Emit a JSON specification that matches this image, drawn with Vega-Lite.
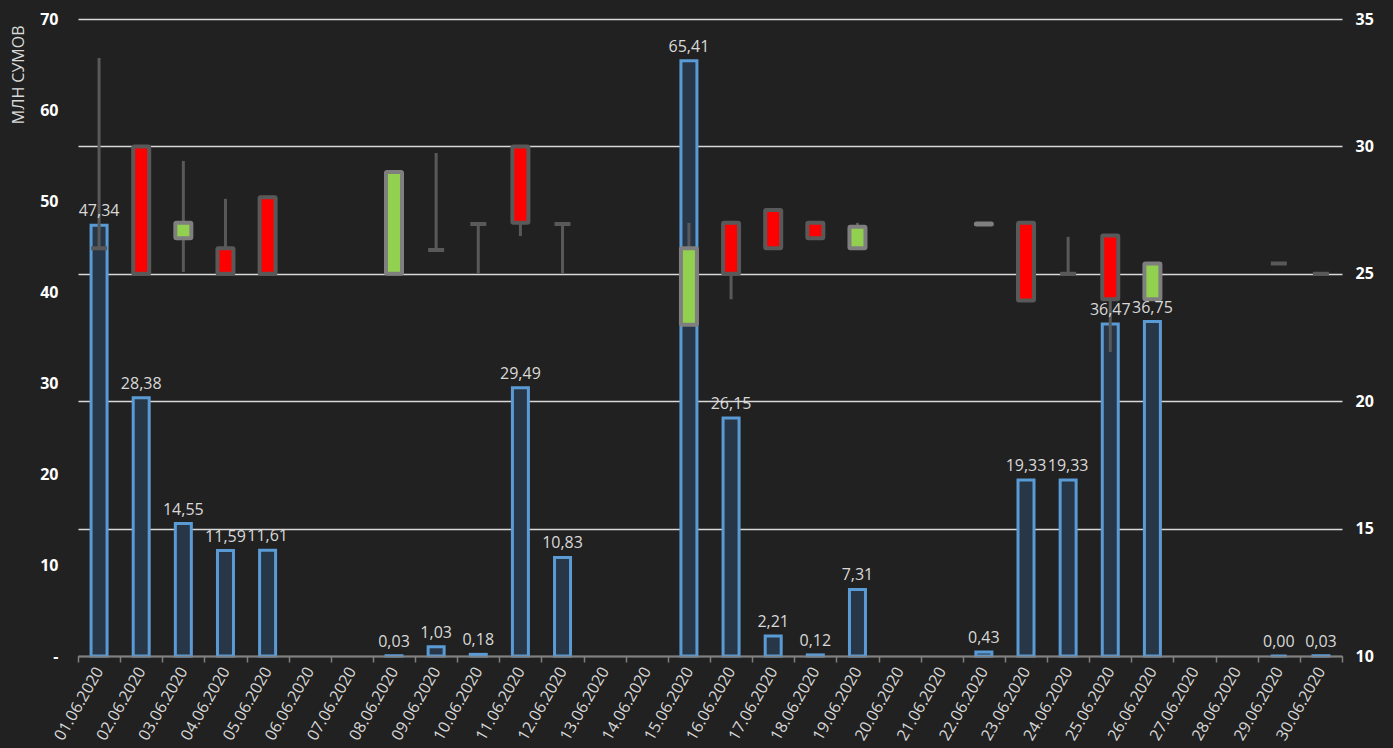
{
  "$schema": "https://vega.github.io/schema/vega-lite/v6.json",
  "width": 1264,
  "height": 637,
  "autosize": {"type": "none"},
  "padding": {"left": 78, "top": 19, "right": 51, "bottom": 92},
  "background": "#212121",
  "config": {
    "view": {"stroke": null},
    "font": "Open Sans",
    "locale": {"number": {"decimal": ",", "thousands": " ", "grouping": [3], "currency": ["", ""]}}
  },
  "data": {
    "values": [
      {"date": "01.06.2020", "value": 47.34, "open": 26, "close": 26, "high": 33.47, "low": 26},
      {"date": "02.06.2020", "value": 28.38, "open": 30, "close": 25, "high": 30, "low": 25},
      {"date": "03.06.2020", "value": 14.55, "open": 26.4, "close": 27.0, "high": 29.43, "low": 25.07},
      {"date": "04.06.2020", "value": 11.59, "open": 26, "close": 25, "high": 27.94, "low": 25},
      {"date": "05.06.2020", "value": 11.61, "open": 28, "close": 25, "high": 28, "low": 25},
      {"date": "06.06.2020", "value": null, "open": null, "close": null, "high": null, "low": null},
      {"date": "07.06.2020", "value": null, "open": null, "close": null, "high": null, "low": null},
      {"date": "08.06.2020", "value": 0.03, "open": 25, "close": 29, "high": 29, "low": 25},
      {"date": "09.06.2020", "value": 1.03, "open": 25.93, "close": 25.93, "high": 29.74, "low": 25.93},
      {"date": "10.06.2020", "value": 0.18, "open": 26.95, "close": 26.95, "high": 26.95, "low": 25},
      {"date": "11.06.2020", "value": 29.49, "open": 30, "close": 27, "high": 30, "low": 26.48},
      {"date": "12.06.2020", "value": 10.83, "open": 26.95, "close": 26.95, "high": 26.95, "low": 25},
      {"date": "13.06.2020", "value": null, "open": null, "close": null, "high": null, "low": null},
      {"date": "14.06.2020", "value": null, "open": null, "close": null, "high": null, "low": null},
      {"date": "15.06.2020", "value": 65.41, "open": 23, "close": 26, "high": 27, "low": 23},
      {"date": "16.06.2020", "value": 26.15, "open": 27, "close": 25, "high": 27, "low": 24},
      {"date": "17.06.2020", "value": 2.21, "open": 27.5, "close": 26, "high": 27.5, "low": 26},
      {"date": "18.06.2020", "value": 0.12, "open": 27, "close": 26.4, "high": 27, "low": 26.4},
      {"date": "19.06.2020", "value": 7.31, "open": 26, "close": 26.85, "high": 27, "low": 26},
      {"date": "20.06.2020", "value": null, "open": null, "close": null, "high": null, "low": null},
      {"date": "21.06.2020", "value": null, "open": null, "close": null, "high": null, "low": null},
      {"date": "22.06.2020", "value": 0.43, "open": 26.93, "close": 26.97, "high": 26.97, "low": 26.93},
      {"date": "23.06.2020", "value": 19.33, "open": 27, "close": 23.95, "high": 27, "low": 23.95},
      {"date": "24.06.2020", "value": 19.33, "open": 25, "close": 25, "high": 26.45, "low": 25},
      {"date": "25.06.2020", "value": 36.47, "open": 26.5, "close": 24, "high": 26.5, "low": 21.93},
      {"date": "26.06.2020", "value": 36.75, "open": 24, "close": 25.4, "high": 25.4, "low": 24},
      {"date": "27.06.2020", "value": null, "open": null, "close": null, "high": null, "low": null},
      {"date": "28.06.2020", "value": null, "open": null, "close": null, "high": null, "low": null},
      {"date": "29.06.2020", "value": 0.0, "open": 25.4, "close": 25.4, "high": 25.4, "low": 25.4},
      {"date": "30.06.2020", "value": 0.03, "open": 25, "close": 25, "high": 25, "low": 25}
    ]
  },
  "encoding": {
    "x": {
      "field": "date",
      "type": "ordinal",
      "sort": null,
      "title": null,
      "scale": {
        "domain": ["01.06.2020", "02.06.2020", "03.06.2020", "04.06.2020", "05.06.2020", "06.06.2020", "07.06.2020", "08.06.2020", "09.06.2020", "10.06.2020", "11.06.2020", "12.06.2020", "13.06.2020", "14.06.2020", "15.06.2020", "16.06.2020", "17.06.2020", "18.06.2020", "19.06.2020", "20.06.2020", "21.06.2020", "22.06.2020", "23.06.2020", "24.06.2020", "25.06.2020", "26.06.2020", "27.06.2020", "28.06.2020", "29.06.2020", "30.06.2020"],
        "paddingInner": 0,
        "paddingOuter": 0
      },
      "axis": {
        "labelAngle": -60,
        "labelAlign": "right",
        "labelBaseline": "middle",
        "labelColor": "#d9d9d9",
        "labelFontSize": 16,
        "labelPadding": 6,
        "domainColor": "#808080",
        "domainWidth": 1.5,
        "tickColor": "#808080",
        "tickWidth": 1.5,
        "tickSize": 6,
        "tickBand": "extent",
        "zindex": 1
      }
    }
  },
  "layer": [
    {
      "mark": {"type": "bar", "size": 16, "fill": "#273747", "stroke": "#5b9bd5", "strokeWidth": 3},
      "encoding": {
        "y": {
          "field": "value",
          "type": "quantitative",
          "scale": {"domain": [0, 70], "nice": false},
          "axis": {
            "orient": "left",
            "values": [0, 10, 20, 30, 40, 50, 60, 70],
            "labelExpr": "datum.value === 0 ? '-' : datum.label",
            "labelColor": "#ffffff",
            "labelFontWeight": "bold",
            "labelFontSize": 16,
            "labelPadding": 20,
            "domain": false,
            "ticks": false,
            "grid": false,
            "title": "МЛН СУМОВ",
            "titleColor": "#d9d9d9",
            "titleFontWeight": "normal",
            "titleFontSize": 16,
            "titleAngle": -90,
            "titleX": -60,
            "titleY": 6,
            "titleAlign": "right",
            "titleBaseline": "middle"
          }
        }
      }
    },
    {
      "layer": [
        {
          "mark": {"type": "rule", "color": "#595959", "strokeWidth": 3},
          "encoding": {
            "y": {
              "field": "low",
              "type": "quantitative",
              "scale": {"domain": [10, 35], "nice": false},
              "axis": {
                "orient": "right",
                "values": [10, 15, 20, 25, 30, 35],
                "labelColor": "#ffffff",
                "labelFontWeight": "bold",
                "labelFontSize": 16,
                "labelPadding": 13,
                "domain": false,
                "ticks": false,
                "grid": true,
                "gridColor": "#d9d9d9",
                "gridWidth": 1.5,
                "title": null
              }
            },
            "y2": {"field": "high"}
          }
        },
        {
          "mark": {"type": "bar", "size": 16, "strokeWidth": 4, "cornerRadius": 1},
          "encoding": {
            "y": {"field": "open", "type": "quantitative"},
            "y2": {"field": "close"},
            "fill": {"condition": {"test": "datum.close > datum.open", "value": "#92d050"}, "value": "#ff0000"},
            "stroke": {"condition": {"test": "datum.close > datum.open", "value": "#7f7f7f"}, "value": "#595959"}
          }
        }
      ]
    },
    {
      "mark": {"type": "text", "color": "#d9d9d9", "fontSize": 16, "baseline": "alphabetic", "dy": -9},
      "encoding": {
        "y": {"field": "value", "type": "quantitative", "scale": {"domain": [0, 70], "nice": false}, "axis": null},
        "text": {"field": "value", "type": "quantitative", "format": ".2f"}
      }
    }
  ],
  "resolve": {"scale": {"y": "independent"}, "axis": {"y": "independent"}}
}
